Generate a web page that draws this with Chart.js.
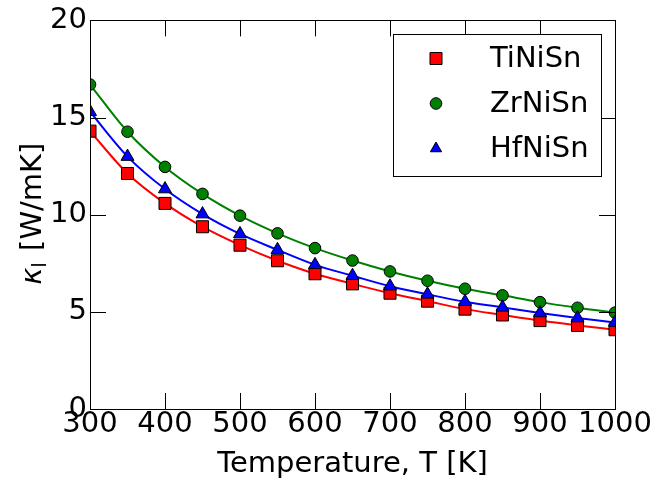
<!DOCTYPE html>
<html>
<head>
<meta charset="utf-8">
<script src="https://cdn.jsdelivr.net/npm/chart.js@4/dist/chart.umd.min.js"></script>
<style>
  html, body { margin: 0; padding: 0; background: #fff; }
  #wrap { width: 658px; height: 482px; position: relative; }
</style>
</head>
<body>
<div id="wrap"><canvas id="kappa"></canvas></div>
<script>
// temperatures (K) and lattice thermal conductivity (W/mK)
const temps = [300, 350, 400, 450, 500, 550, 600, 650, 700, 750, 800, 850, 900, 950, 1000];
const tiNiSn = [14.3, 12.12, 10.58, 9.38, 8.43, 7.63, 6.96, 6.44, 5.96, 5.55, 5.14, 4.84, 4.55, 4.3, 4.08];
const zrNiSn = [16.7, 14.27, 12.46, 11.07, 9.95, 9.04, 8.28, 7.64, 7.08, 6.6, 6.19, 5.85, 5.5, 5.21, 4.96];
const hfNiSn = [15.3, 12.99, 11.32, 10.03, 9.01, 8.19, 7.42, 6.86, 6.32, 5.9, 5.52, 5.23, 4.94, 4.68, 4.45];
const seriesNames = ['TiNiSn', 'ZrNiSn', 'HfNiSn'];
const xTicks = [300, 400, 500, 600, 700, 800, 900, 1000];
const yTicks = [0, 5, 10, 15, 20];

const FONT = '"DejaVu Sans", sans-serif';
const colors = ['#ff0000', '#008000', '#0000ff'];
const shapes = ['rect', 'circle', 'triangle'];
const radii = [8.5, 5.8, 7.5];

function pts(vals) {
    return temps.map((t, i) => ({x: t, y: vals[i]}));
}

function drawMarker(ctx, shape, x, y, r, fill) {
    ctx.save();
    ctx.fillStyle = fill;
    ctx.strokeStyle = '#000';
    ctx.lineWidth = 1;
    ctx.beginPath();
    if (shape === 'rect') {
        let s = Math.SQRT1_2 * r;
        ctx.rect(x - s, y - s, 2 * s, 2 * s);
    } else if (shape === 'circle') {
        ctx.arc(x, y, r, 0, Math.PI * 2);
    } else {
        ctx.moveTo(x, y - r);
        ctx.lineTo(x + r * 0.866, y + r / 2);
        ctx.lineTo(x - r * 0.866, y + r / 2);
        ctx.closePath();
    }
    ctx.fill();
    ctx.stroke();
    ctx.restore();
}

// frame, inward ticks on all sides, axis titles and legend box
const decorations = {
    id: 'decorations',
    beforeDatasetsDraw(chart) {
        const a = chart.chartArea;
        chart.ctx.save();
        chart.ctx.beginPath();
        chart.ctx.rect(a.left, a.top, a.right - a.left, a.bottom - a.top);
        chart.ctx.clip();
    },
    afterDatasetsDraw(chart) {
        const ctx = chart.ctx;
        ctx.restore();
        const a = chart.chartArea;
        const xs = chart.scales.x, ys = chart.scales.y;
        const tl = 16;
        ctx.save();
        ctx.strokeStyle = '#000';
        ctx.lineWidth = 1;
        ctx.beginPath();
        xTicks.forEach(v => {
            let px = Math.round(xs.getPixelForValue(v)) + 0.5;
            ctx.moveTo(px, a.bottom); ctx.lineTo(px, a.bottom - tl);
            ctx.moveTo(px, a.top); ctx.lineTo(px, a.top + tl);
        });
        yTicks.forEach(v => {
            let py = Math.round(ys.getPixelForValue(v)) + 0.5;
            ctx.moveTo(a.left, py); ctx.lineTo(a.left + tl, py);
            ctx.moveTo(a.right, py); ctx.lineTo(a.right - tl, py);
        });
        ctx.stroke();
        ctx.strokeRect(Math.round(a.left) + 0.5, Math.round(a.top) + 0.5,
            Math.round(a.right - a.left), Math.round(a.bottom - a.top));

        // x title
        ctx.fillStyle = '#000';
        ctx.font = '29px ' + FONT;
        ctx.textAlign = 'center';
        ctx.textBaseline = 'alphabetic';
        ctx.fillText('Temperature, T [K]', (a.left + a.right) / 2, 472);

        // y title: kappa_l [W/mK]
        ctx.save();
        ctx.translate(41, (a.top + a.bottom) / 2);
        ctx.rotate(-Math.PI / 2);
        ctx.textAlign = 'left';
        const kFont = 'italic 29px ' + FONT;
        const subFont = '20px ' + FONT;
        const restFont = '29px ' + FONT;
        ctx.font = kFont; let wk = ctx.measureText('\u03ba').width;
        ctx.font = subFont; let ws = ctx.measureText('l').width;
        ctx.font = restFont; let wr = ctx.measureText(' [W/mK]').width;
        let x0 = -(wk + ws + wr) / 2;
        ctx.font = kFont; ctx.fillText('\u03ba', x0, 0);
        ctx.font = subFont; ctx.fillText('l', x0 + wk, 5);
        ctx.font = restFont; ctx.fillText(' [W/mK]', x0 + wk + ws + 2, 0);
        ctx.restore();

        // legend
        const lx = 393, ly = 34, lw = 208, lh = 142;
        ctx.fillStyle = '#fff';
        ctx.fillRect(lx, ly, lw, lh);
        ctx.strokeRect(lx + 0.5, ly + 0.5, lw, lh);
        ctx.font = '29px ' + FONT;
        ctx.textAlign = 'left';
        ctx.textBaseline = 'middle';
        seriesNames.forEach((name, i) => {
            let cy = 58.5 + i * 45;
            drawMarker(ctx, shapes[i], 436, cy, i === 2 ? 6.5 : (i === 0 ? 8.5 : 5.8), colors[i]);
            ctx.fillStyle = '#000';
            ctx.fillText(name, 490, cy + 1);
        });
        ctx.restore();
    }
};

const series = [tiNiSn, zrNiSn, hfNiSn];
const datasets = series.map((vals, i) => ({
    label: seriesNames[i],
    data: pts(vals),
    borderColor: colors[i],
    backgroundColor: colors[i],
    borderWidth: 2,
    pointStyle: shapes[i],
    pointRadius: radii[i],
    pointBorderColor: '#000',
    pointBorderWidth: 1,
    pointBackgroundColor: colors[i],
    cubicInterpolationMode: 'monotone',
    clip: false,
    order: 3 - i
}));

new Chart(document.getElementById('kappa').getContext('2d'), {
    type: 'line',
    data: {datasets: datasets},
    options: {
        responsive: true,
        maintainAspectRatio: false,
        animation: false,
        events: [],
        layout: {padding: {top: 19, right: 43, left: 0, bottom: 0}},
        plugins: {legend: {display: false}, tooltip: {enabled: false}},
        scales: {
            x: {
                type: 'linear',
                min: 300, max: 1000,
                afterBuildTicks: s => { s.ticks = xTicks.map(v => ({value: v})); },
                afterFit: s => { s.height = 73; },
                grid: {display: false, drawTicks: false},
                border: {display: false},
                ticks: {color: '#000', font: {family: FONT, size: 29, lineHeight: 1}, padding: 1,
                    maxRotation: 0, autoSkip: false, callback: v => String(v)}
            },
            y: {
                min: 0, max: 20,
                afterBuildTicks: s => { s.ticks = yTicks.map(v => ({value: v})); },
                afterFit: s => { s.width = 90; },
                grid: {display: false, drawTicks: false},
                border: {display: false},
                ticks: {color: '#000', font: {family: FONT, size: 29}, padding: 3,
                    callback: v => String(v)}
            }
        }
    },
    plugins: [decorations]
});
</script>
</body>
</html>
